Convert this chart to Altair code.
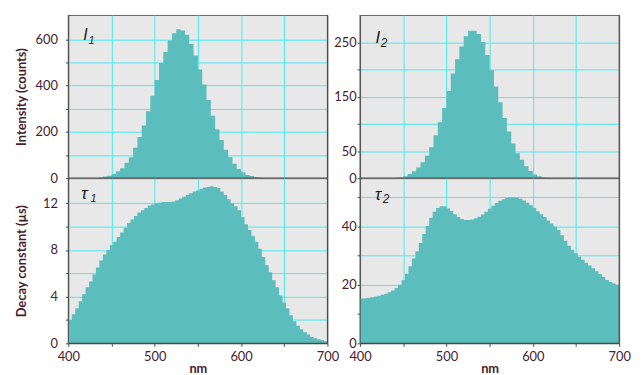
import altair as alt
import pandas as pd

# ---------------- data ----------------
X_MIN, X_MAX = 400, 700
INT_STEP = 5      # nm per intensity bin (starts at 400)
TAU_STEP = 4      # nm per decay-constant bin (starts at 400)

i1_values = [0, 0, 0, 0, 0, 0, 0,
             3, 7, 11, 18, 30, 43, 67, 90, 131, 178,
             228, 289, 356, 424, 498, 545, 595, 626, 643, 638,
             620, 580, 530, 470, 405, 338, 270, 211, 165, 123,
             90, 62, 40, 26, 14, 9, 4.5, 3,
             0, 0, 0, 0, 0, 0, 0, 0, 0, 0, 0, 0, 0, 0, 0]

i2_values = [0, 0, 0, 0, 0, 0, 0, 0,
             0.8, 1.2, 3.6, 7.9, 12.8, 19.5, 29.2, 41.3, 57.1, 79,
             103.3, 129.4, 161, 193.3, 219.4, 243.1, 262, 272, 272, 266,
             251, 227, 199, 169, 140, 111, 86, 64, 46, 34,
             22, 13, 7, 3.6, 1.2, 0.6,
             0, 0, 0, 0, 0, 0, 0, 0, 0, 0, 0, 0, 0, 0, 0, 0]

tau1_values = [2.0, 2.5, 3.0, 3.6, 4.2, 4.8, 5.3, 5.9, 6.5, 7.1,
               7.6, 8.0, 8.4, 8.7, 9.1, 9.5, 9.9, 10.3, 10.6, 10.9,
               11.2, 11.4, 11.6, 11.8, 11.9, 12.0, 12.05, 12.1, 12.1, 12.1,
               12.15, 12.25, 12.4, 12.55, 12.7, 12.85, 13.0, 13.1, 13.25, 13.35,
               13.4, 13.45, 13.4, 13.3, 13.0, 12.7, 12.35, 12.0, 11.75, 11.4,
               10.8, 10.2, 9.7, 9.2, 8.7, 8.1, 7.4, 6.7, 6.1, 5.4,
               4.8, 4.1, 3.5, 3.0, 2.4, 1.9, 1.5, 1.2, 0.95, 0.75,
               0.55, 0.43, 0.35, 0.28, 0.18]

tau2_values = [15.3, 15.4, 15.6, 15.8, 16.0, 16.3, 16.6, 17.0, 17.5, 18.1,
               18.9, 20.0, 21.6, 23.8, 26.4, 29.0, 31.5, 34.3, 37.4, 40.1,
               43.0, 45.0, 46.3, 46.9, 46.9, 46.2, 45.3, 44.2, 43.2, 42.5,
               42.2, 42.2, 42.4, 42.8, 43.3, 44.1, 45.0, 46.0, 47.1, 48.0,
               48.8, 49.3, 49.7, 49.9, 49.9, 49.8, 49.5, 48.9, 48.1, 47.2,
               46.3, 45.2, 44.2, 43.2, 42.0, 41.0, 40.0, 38.8, 37.0, 35.1,
               33.4, 32.0, 30.8, 29.6, 28.6, 27.6, 26.6, 25.7, 24.7, 23.7,
               22.7, 21.7, 21.0, 20.5, 20.0]

x_ticks = [400, 450, 500, 550, 600, 650, 700]
x_labels = [400, 500, 600, 700]

i1_ticks, i1_labels = [0, 100, 200, 300, 400, 500, 600], [0, 200, 400, 600]
i2_ticks, i2_labels = [0, 50, 100, 150, 200, 250], [0, 50, 150, 250]
t1_ticks, t1_labels = [0, 2, 4, 6, 8, 10, 12], [0, 4, 8, 12]
t2_ticks, t2_labels = [0, 10, 20, 30, 40, 50], [0, 20, 40]

# ---------------- style ----------------
TEAL = "#5cbdbd"
GRID = "#45ecf2"
BG = "#e8e8e8"
LABEL = "#46202f"
DARK = "#4a4a4a"
FONT = "Lato"
SYMFONT = "Liberation Sans"

W = 262
H_TOP = 165
H_BOT = 167


def hist_df(values, step):
    starts = [X_MIN + step * i for i in range(len(values))]
    return pd.DataFrame({"nm": starts + [starts[-1] + step],
                         "v": values + [values[-1]]})


def in_list_expr(lst):
    return "indexof([" + ",".join(str(v) for v in lst) + "], datum.value) >= 0"


def panel(values, step, ydom, yticks, ylabels, ytitle, sym, sub, h,
          bottom, left, sym_pos, sub_pos, sym_size, sub_size):
    df = hist_df(values, step)
    hide_edge_x = "datum.value == 400 || datum.value == 700"
    xaxis = alt.Axis(
        values=x_ticks,
        labels=bottom,
        labelExpr=f"{in_list_expr(x_labels)} ? datum.label : ''",
        labelFlush=False,
        labelOverlap=False,
        labelPadding=4,
        ticks=bottom,
        tickSize=3,
        title="nm" if bottom else None,
        titlePadding=0,
        grid=True,
        gridColor={"condition": {"test": hide_edge_x, "value": "transparent"}, "value": GRID},
        domain=False,
    )
    yaxis_kwargs = dict(
        values=yticks,
        labelExpr=f"{in_list_expr(ylabels)} ? datum.label : ''",
        labelOverlap=False,
        labelPadding=8 if left else 1,
        tickSize=3,
        grid=True,
        gridColor={"condition": {"test": "datum.value == 0", "value": "transparent"}, "value": GRID},
        domain=False,
    )
    if left:
        yaxis = alt.Axis(title=ytitle, titleX=-40, **yaxis_kwargs)
    else:
        yaxis = alt.Axis(title=None, **yaxis_kwargs)

    xs = alt.Scale(domain=[X_MIN, X_MAX], nice=False, zero=False)
    ys = alt.Scale(domain=ydom, nice=False)

    area = alt.Chart(df).mark_area(interpolate="step-after", color=TEAL, opacity=1).encode(
        x=alt.X("nm:Q", scale=xs, axis=xaxis),
        y=alt.Y("v:Q", scale=ys, axis=yaxis),
    )
    base_rule = alt.Chart(pd.DataFrame({"nm": [X_MIN], "nm2": [X_MAX], "v": [0]})).mark_rule(
        color=DARK, strokeWidth=1.6 if not bottom else 1.2).encode(
        x=alt.X("nm:Q", scale=xs, axis=xaxis), x2="nm2:Q",
        y=alt.Y("v:Q", scale=ys, axis=yaxis))
    side_rules = alt.Chart(pd.DataFrame({"nm": [X_MIN, X_MAX]})).mark_rule(
        color=DARK, strokeWidth=1.1).encode(x=alt.X("nm:Q", scale=xs, axis=xaxis))

    lab = pd.DataFrame({"s": [sym], "b": [sub]})
    sym_t = alt.Chart(lab).mark_text(
        font=SYMFONT, fontStyle="italic", fontSize=sym_size, color="#1a1a1a",
        align="left", baseline="alphabetic").encode(
        x=alt.value(sym_pos[0]), y=alt.value(sym_pos[1]), text="s:N")
    sub_t = alt.Chart(lab).mark_text(
        font=SYMFONT, fontStyle="italic", fontSize=sub_size, color="#1a1a1a",
        align="left", baseline="alphabetic").encode(
        x=alt.value(sub_pos[0]), y=alt.value(sub_pos[1]), text="b:N")

    return alt.layer(area, base_rule, side_rules, sym_t, sub_t).properties(width=W, height=h)


tl = panel(i1_values, INT_STEP, [0, 705], i1_ticks, i1_labels, "Intensity (counts)",
           "I", "1", H_TOP, False, True, (15, 25.5), (20.5, 29), 16, 11)
tr = panel(i2_values, INT_STEP, [0, 301], i2_ticks, i2_labels, None,
           "I", "2", H_TOP, False, False, (15.5, 28.5), (21, 32.5), 17, 12)
bl = panel(tau1_values, TAU_STEP, [0, 14.15], t1_ticks, t1_labels, "Decay constant (µs)",
           "τ", "1", H_BOT, True, True, (13, 21.5), (22.5, 24), 17, 11)
br = panel(tau2_values, TAU_STEP, [0, 56.5], t2_ticks, t2_labels, None,
           "τ", "2", H_BOT, True, False, (15, 22.5), (23, 25), 17, 12)

chart = alt.concat(
    tl, tr, bl, br, columns=2, spacing={"row": 0, "column": 33}, bounds="flush"
).properties(
    padding={"left": 7, "top": 3, "right": 5, "bottom": 0},
    background="white",
).configure_view(
    fill=BG, stroke="#666", strokeWidth=1
).configure_axis(
    labelFont=FONT, labelFontSize=13, labelColor=LABEL,
    titleFont=FONT, titleFontSize=13, titleFontWeight="bold", titleColor=LABEL,
    gridWidth=1, tickColor=DARK,
)

chart.save("out.html", embed_options={"renderer": "svg", "actions": False})
